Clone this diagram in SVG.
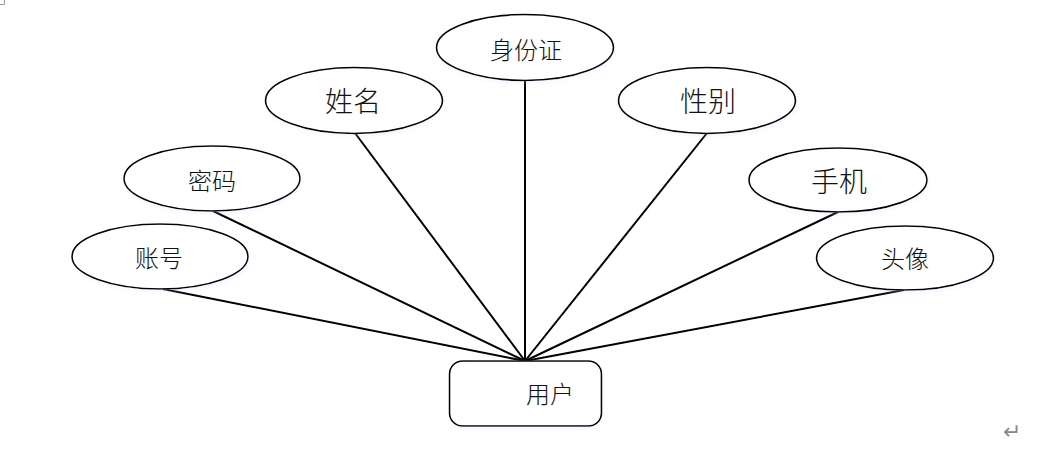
<svg xmlns="http://www.w3.org/2000/svg" width="1040" height="455" viewBox="0 0 1040 455">
<style>
.n ellipse,.n rect{fill:#fff;stroke:#000;stroke-width:1.6;filter:url(#sh)}
.n text{font-family:"Noto Sans CJK SC",sans-serif;font-weight:300;fill:#111;text-anchor:middle;dominant-baseline:central;font-size:24px}
.n text.big{font-size:28px}
#edges line{stroke:#000;stroke-width:2}
</style>
<defs>
<filter id="sh" x="-10%" y="-20%" width="120%" height="140%">
<feGaussianBlur in="SourceAlpha" stdDeviation="2.5"/>
<feOffset dx="1" dy="2"/>
<feComponentTransfer><feFuncA type="linear" slope="0.25"/></feComponentTransfer>
<feColorMatrix type="matrix" values="0 0 0 0 0.55 0 0 0 0 0.7 0 0 0 0 0.95 0 0 0 1 0"/>
<feMerge><feMergeNode/><feMergeNode in="SourceGraphic"/></feMerge>
</filter>
</defs>
<rect width="1040" height="455" fill="#fff"/>
<path d="M0 4.5H4.5V0" fill="none" stroke="#999" stroke-width="1"/>
<g id="edges">
<line x1="525" y1="81" x2="525" y2="361"/>
<line x1="355" y1="133" x2="525" y2="361"/>
<line x1="707" y1="133" x2="525" y2="361"/>
<line x1="213" y1="211" x2="525" y2="361"/>
<line x1="838" y1="212" x2="525" y2="361"/>
<line x1="163" y1="289" x2="525" y2="361"/>
<line x1="904" y1="290" x2="525" y2="361"/>
</g>
<g id="n-sfz" class="n"><ellipse cx="525" cy="47.5" rx="88.5" ry="33"/><text x="526" y="48">身份证</text></g>
<g id="n-xm" class="n"><ellipse cx="354" cy="100.5" rx="88.5" ry="33"/><text class="big" x="353" y="100">姓名</text></g>
<g id="n-xb" class="n"><ellipse cx="707" cy="100.5" rx="88.5" ry="33"/><text class="big" x="708" y="100">性别</text></g>
<g id="n-mm" class="n"><ellipse cx="212" cy="178.5" rx="88" ry="32.5"/><text x="212" y="179">密码</text></g>
<g id="n-sj" class="n"><ellipse cx="838" cy="180" rx="89" ry="32"/><text class="big" x="839" y="180">手机</text></g>
<g id="n-zh" class="n"><ellipse cx="160" cy="256.5" rx="88" ry="32.5"/><text x="159" y="256">账号</text></g>
<g id="n-tx" class="n"><ellipse cx="905" cy="258" rx="88.5" ry="32"/><text x="905" y="257">头像</text></g>
<g id="n-yh" class="n"><rect x="449.5" y="361" width="152" height="65" rx="13" ry="13"/><text x="550" y="392">用户</text></g>
<text x="1012" y="431" font-family="'DejaVu Sans',sans-serif" font-size="22" fill="#888" text-anchor="middle" dominant-baseline="central">↵</text>
</svg>
